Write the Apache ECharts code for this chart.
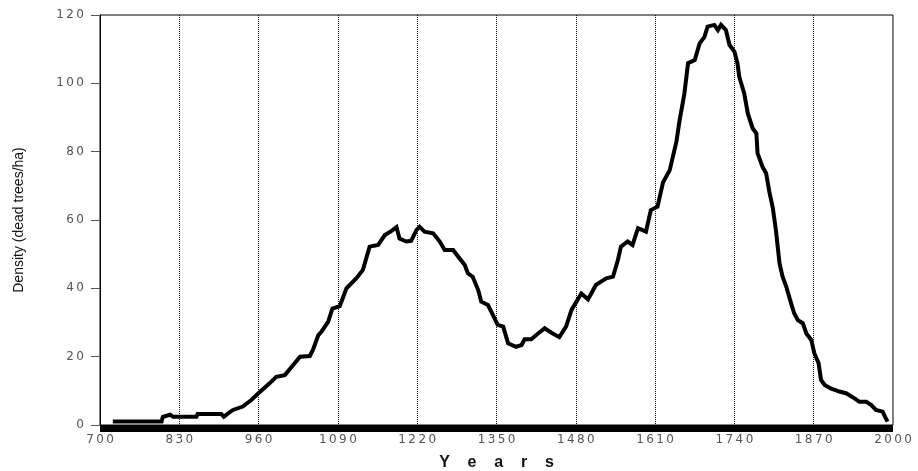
<!DOCTYPE html>
<html>
<head>
<meta charset="utf-8">
<script src="https://cdn.jsdelivr.net/npm/echarts@6/dist/echarts.min.js"></script>
<style>
html,body{margin:0;padding:0;background:#fff;}
#chart{width:918px;height:471px;}
</style>
</head>
<body>
<div id="chart"></div>
<script>
const years = [721,801,803,815,820,858,860,899,903,910,918,934,948,961,978,989,1003,1014,1028,1044,1049,1058,1063,1074,1081,1093,1104,1120,1131,1142,1156,1167,1178,1186,1191,1202,1210,1219,1224,1232,1246,1257,1265,1279,1287,1298,1303,1311,1320,1325,1336,1344,1352,1361,1369,1382,1391,1396,1407,1418,1429,1440,1453,1464,1473,1481,1489,1500,1513,1530,1541,1549,1554,1565,1573,1582,1595,1603,1614,1623,1634,1645,1650,1658,1664,1675,1683,1691,1696,1707,1713,1718,1726,1732,1740,1745,1748,1756,1762,1770,1776,1778,1786,1792,1797,1803,1808,1814,1819,1825,1833,1838,1844,1852,1858,1866,1871,1878,1882,1888,1898,1912,1923,1937,1945,1956,1964,1972,1983,1987,1991];
const density = [1.0,1.0,2.4,3.0,2.4,2.4,3.2,3.2,2.4,3.4,4.4,5.4,7.3,9.5,12.2,14.1,14.6,17,20,20.2,22,26.3,27.3,30.2,34.1,34.8,40,42.9,45.4,52.2,52.7,55.6,56.8,57.9,54.6,53.7,53.9,57.1,58,56.6,56.1,53.7,51.2,51.2,49.3,46.8,44.4,43.4,39.5,36.1,35.1,32.2,29.3,28.8,23.9,22.9,23.4,25.1,25.1,26.8,28.3,27,25.7,28.8,33.7,36.1,38.5,36.8,41,42.9,43.4,48.3,52.2,53.7,52.7,57.6,56.6,62.9,63.9,71,74.6,83,89,97,105.9,106.8,111.7,113.6,116.6,117.1,115.6,117.1,115.6,111.2,109.3,105.9,101.9,97.1,91.2,86.8,85.4,79.5,75.6,73.7,68.5,63.5,57.1,47.3,43.4,40.5,35.6,32.7,30.7,29.8,26.8,24.9,21,18.1,13.2,11.7,10.7,9.8,9.3,7.8,6.8,6.8,5.9,4.4,3.9,2.4,1.0];
const xTicks = [700,830,960,1090,1220,1350,1480,1610,1740,1870,2000];
const yTicks = [0,20,40,60,80,100,120];
const xTitle = 'Y    e    a    r    s';
const yTitle = 'Density (dead trees/ha)';

const spaced = v => String(v).split('').join('\u2009');
const chart = echarts.init(document.getElementById('chart'), null, {renderer:'canvas'});
chart.setOption({
  animation:false,
  backgroundColor:'#fff',
  grid:{left:100,right:25,top:15,bottom:46,outerBoundsMode:'none',containLabel:false,show:true,borderColor:'#000',borderWidth:1,backgroundColor:'transparent'},
  xAxis:{
    type:'value',min:xTicks[0],max:xTicks[xTicks.length-1],interval:xTicks[1]-xTicks[0],
    name:xTitle,nameLocation:'middle',nameGap:27,
    nameTextStyle:{fontFamily:'Liberation Sans',fontSize:16,fontWeight:'bold',color:'#111'},
    axisLine:{show:true,onZero:false,lineStyle:{color:'#000',width:7,cap:'butt'}},
    offset:3,
    axisTick:{show:false},
    axisLabel:{formatter:spaced,fontFamily:'DejaVu Sans',fontSize:12,color:'#555',margin:6},
    splitLine:{show:true,showMinLine:false,showMaxLine:false,lineStyle:{type:'dotted',color:'#111',width:1}}
  },
  yAxis:{
    type:'value',min:yTicks[0],max:yTicks[yTicks.length-1],interval:yTicks[1]-yTicks[0],
    name:yTitle,nameLocation:'middle',nameGap:74,
    nameTextStyle:{fontFamily:'Liberation Sans',fontSize:14,color:'#111'},
    axisLine:{show:true,lineStyle:{color:'#000',width:1}},
    axisTick:{show:true,length:9,lineStyle:{color:'#555'}},
    axisLabel:{formatter:spaced,fontFamily:'DejaVu Sans',fontSize:12,color:'#555',margin:16},
    splitLine:{show:false}
  },
  series:[{
    type:'line',
    data:years.map((y,i)=>[y,density[i]]),
    showSymbol:false,
    lineStyle:{color:'#000',width:4,join:'miter'},
    itemStyle:{color:'#000'}
  }]
});
</script>
</body>
</html>
